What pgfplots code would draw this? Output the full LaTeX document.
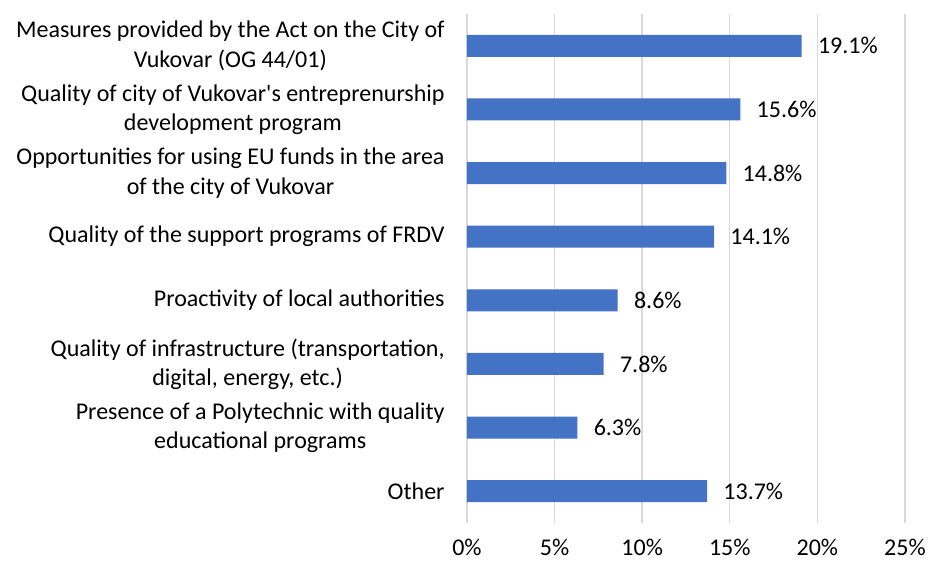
\documentclass[border=0pt]{standalone}
\usepackage{pgfplots}
\pgfplotsset{compat=1.18}
\usepackage{fontspec}
\setmainfont{Carlito}
\definecolor{barblue}{HTML}{4472C4}
\definecolor{gridgray}{HTML}{D9D9D9}
\begin{document}
\begin{tikzpicture}[font=\fontsize{12}{14.6}\selectfont]
\begin{axis}[
  at={(0,0)}, anchor=south west,
  scale only axis,
  width=219pt, height=254.5pt,
  xbar, bar width=11pt,
  xmin=0, xmax=25,
  ymin=-0.5, ymax=7.5,
  xtick={0,5,10,15,20,25},
  xticklabel={\pgfmathprintnumber{\tick}\%},
  /pgf/number format/assume math mode=true,
  ytick={0,1,2,3,4,5,6,7},
  yticklabels={{Other},
    {Presence of a Polytechnic with quality\\educational programs},
    {Quality of infrastructure (transportation,\\digital, energy, etc.)},
    {Proactivity of local authorities},
    {Quality of the support programs of FRDV},
    {Opportunities for using EU funds in the area\\of the city of Vukovar},
    {Quality of city of Vukovar\textquotesingle s entreprenurship\\development program},
    {Measures provided by the Act on the City of\\Vukovar (OG 44/01)}},
  yticklabel style={align=center, inner sep=0pt, xshift=-11pt},
  xticklabel style={inner sep=0pt, yshift=-8pt},
  major tick length=0pt,
  axis line style={draw=none},
  xmajorgrids, major grid style={gridgray, line width=0.7pt},
  nodes near coords={\pgfmathprintnumber[fixed,fixed zerofill,precision=1]{\pgfplotspointmeta}\%},
  nodes near coords style={anchor=west, inner sep=0pt, xshift=8pt, text=black},
  every node near coord/.append style={font=\fontsize{12}{14.6}\selectfont},
]
\addplot[fill=barblue, draw=none] coordinates {
  (13.7,0) (6.3,1) (7.8,2) (8.6,3) (14.1,4) (14.8,5) (15.6,6) (19.1,7)};
\end{axis}
\useasboundingbox (-233.5pt,-20pt) rectangle (230.5pt,261.5pt);
\end{tikzpicture}
\end{document}
